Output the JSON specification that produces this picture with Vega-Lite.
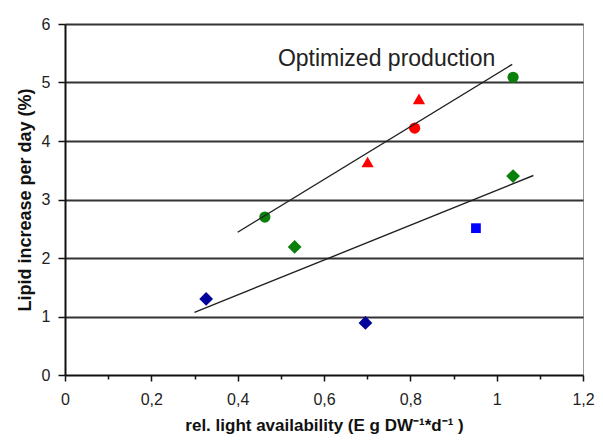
{
  "$schema": "https://vega.github.io/schema/vega-lite/v6.json",
  "width": 518,
  "height": 351,
  "autosize": {"type": "none"},
  "padding": {"left": 65, "top": 24, "right": 20, "bottom": 70},
  "background": "white",
  "config": {
    "view": {"stroke": "#999999", "strokeWidth": 1},
    "font": "Liberation Sans"
  },
  "datasets": {
    "pts": [
      {"x": 0.463, "y": 2.70, "group": "green circle"},
      {"x": 1.038, "y": 5.09, "group": "green circle"},
      {"x": 0.532, "y": 2.19, "group": "green diamond"},
      {"x": 1.038, "y": 3.40, "group": "green diamond"},
      {"x": 0.327, "y": 1.30, "group": "navy diamond"},
      {"x": 0.696, "y": 0.89, "group": "navy diamond"},
      {"x": 0.701, "y": 3.64, "group": "red triangle"},
      {"x": 0.820, "y": 4.72, "group": "red triangle"},
      {"x": 0.810, "y": 4.22, "group": "red circle"},
      {"x": 0.952, "y": 2.51, "group": "blue square"}
    ],
    "fits": [
      {"x": 0.40, "y": 2.44, "x2": 1.036, "y2": 5.31, "fit": "optimized"},
      {"x": 0.30, "y": 1.07, "x2": 1.085, "y2": 3.41, "fit": "other"}
    ],
    "notes": [
      {"x": 0.745, "y": 5.28, "label": "Optimized production"}
    ]
  },
  "layer": [
    {
      "data": {"name": "pts"},
      "mark": {"type": "point", "filled": true, "opacity": 1},
      "encoding": {
        "x": {
          "field": "x", "type": "quantitative",
          "scale": {"domain": [0, 1.2], "nice": false, "zero": false},
          "axis": {
            "title": "rel. light availability (E g DW\u207b\u00b9*d\u207b\u00b9 )",
            "titleFont": "Liberation Sans", "titleFontSize": 17, "titleFontWeight": "bold",
            "titleColor": "#111111", "titlePadding": 10,
            "values": [0,0.05,0.1,0.15,0.2,0.25,0.3,0.35,0.4,0.45,0.5,0.55,0.6,0.65,0.7,0.75,0.8,0.85,0.9,0.95,1,1.05,1.1,1.15,1.2],
            "labelExpr": "abs(datum.value*5 - round(datum.value*5)) < 1e-6 ? replace(format(datum.value, '.1~f'), '.', ',') : ''",
            "labelFont": "Liberation Sans", "labelFontSize": 16, "labelColor": "#222222",
            "labelPadding": 10, "labelFlush": false, "labelOverlap": false,
            "domainColor": "#111111", "domainWidth": 2,
            "tickColor": "#111111", "tickWidth": 1.5,
            "tickSize": {"condition": {"test": "abs(datum.value*5 - round(datum.value*5)) < 1e-6", "value": 6}, "value": 4},
            "grid": false
          }
        },
        "y": {
          "field": "y", "type": "quantitative",
          "scale": {"domain": [0, 6], "nice": false},
          "axis": {
            "title": "Lipid increase per day (%)",
            "titleFont": "Liberation Sans", "titleFontSize": 18, "titleFontWeight": "bold",
            "titleColor": "#111111", "titlePadding": 7,
            "values": [0,0.5,1,1.5,2,2.5,3,3.5,4,4.5,5,5.5,6],
            "labelExpr": "datum.value % 1 === 0 ? format(datum.value, 'd') : ''",
            "labelFont": "Liberation Sans", "labelFontSize": 16, "labelColor": "#222222",
            "labelPadding": 8, "labelFlush": false, "labelOverlap": false,
            "domainColor": "#111111", "domainWidth": 2,
            "tickColor": "#111111", "tickWidth": 1.5,
            "tickSize": {"condition": {"test": "datum.value % 1 === 0", "value": 7}, "value": 4},
            "grid": true, "gridColor": "#333333", "gridWidth": 2,
            "gridOpacity": {"condition": {"test": "datum.value % 1 === 0 && datum.value > 0", "value": 1}, "value": 0}
          }
        },
        "color": {
          "field": "group", "type": "nominal", "legend": null,
          "scale": {
            "domain": ["green circle", "green diamond", "navy diamond", "red triangle", "red circle", "blue square"],
            "range": ["#0a800a", "#0a800a", "#00009a", "#ff0000", "#ff0000", "#0000ff"]
          }
        },
        "shape": {
          "field": "group", "type": "nominal", "legend": null,
          "scale": {
            "domain": ["green circle", "green diamond", "navy diamond", "red triangle", "red circle", "blue square"],
            "range": ["circle", "diamond", "diamond", "triangle-up", "circle", "square"]
          }
        },
        "size": {
          "field": "group", "type": "nominal", "legend": null,
          "scale": {
            "type": "ordinal",
            "domain": ["green circle", "green diamond", "navy diamond", "red triangle", "red circle", "blue square"],
            "range": [125, 190, 190, 150, 125, 95]
          }
        }
      }
    },
    {
      "data": {"name": "fits"},
      "mark": {"type": "rule", "color": "#222222", "strokeWidth": 1.4},
      "encoding": {
        "x": {"field": "x", "type": "quantitative"},
        "y": {"field": "y", "type": "quantitative"},
        "x2": {"field": "x2"},
        "y2": {"field": "y2"}
      }
    },
    {
      "data": {"name": "notes"},
      "mark": {"type": "text", "font": "Liberation Sans", "fontSize": 23, "color": "#222222", "align": "center", "baseline": "alphabetic"},
      "encoding": {
        "x": {"field": "x", "type": "quantitative"},
        "y": {"field": "y", "type": "quantitative"},
        "text": {"field": "label"}
      }
    }
  ]
}
